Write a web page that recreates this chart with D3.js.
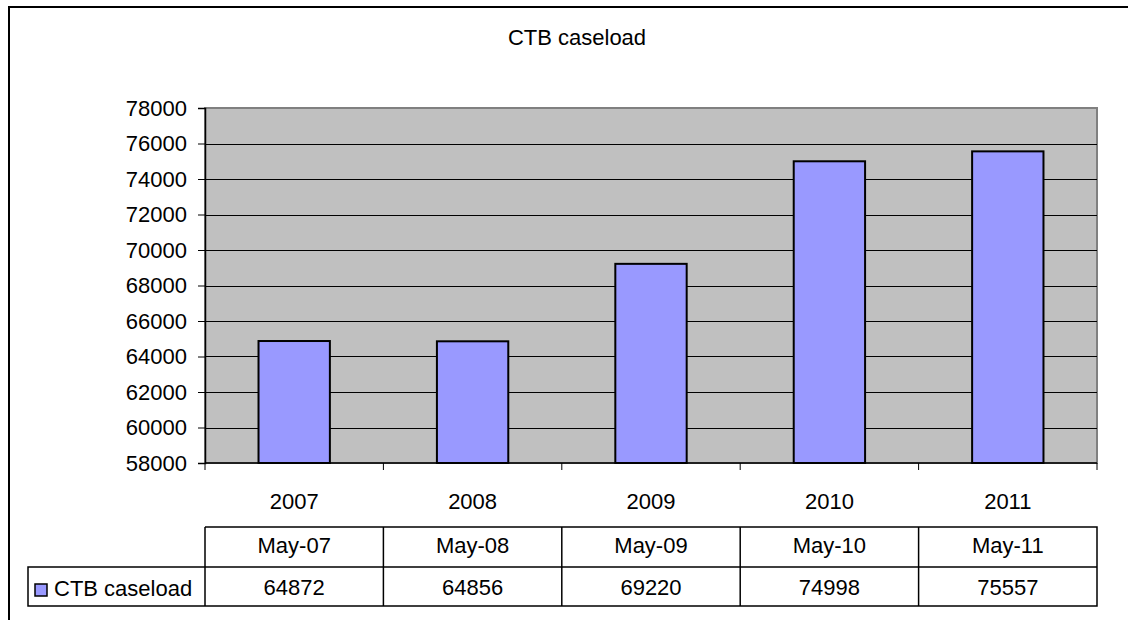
<!DOCTYPE html>
<html>
<head>
<meta charset="utf-8">
<script src="https://cdn.jsdelivr.net/npm/d3@7"></script>
<style>
  body { margin: 0; background: #fff; }
  text { font-family: "Liberation Sans", Arial, sans-serif; font-size: 22px; fill: #000; }
</style>
</head>
<body>
<svg width="1128" height="620"></svg>
<script>
// chart data
const years = ["2007", "2008", "2009", "2010", "2011"];
const dates = ["May-07", "May-08", "May-09", "May-10", "May-11"];
const caseload = [64872, 64856, 69220, 74998, 75557];
const yTicks = [58000, 60000, 62000, 64000, 66000, 68000, 70000, 72000, 74000, 76000, 78000];
const seriesName = "CTB caseload";

const svg = d3.select("svg");
const plot = { left: 205, right: 1097, top: 108, bottom: 463 };

// outer chart frame (runs off the right and bottom edge)
svg.append("rect")
    .attr("x", 9).attr("y", 7)
    .attr("width", 1200).attr("height", 700)
    .attr("fill", "none").attr("stroke", "#000").attr("stroke-width", 2);

svg.append("text")
    .attr("x", 577).attr("y", 45)
    .attr("text-anchor", "middle")
    .text("CTB caseload");

const x = d3.scaleBand().domain(years).range([plot.left, plot.right]).padding(0);
const y = d3.scaleLinear().domain([58000, 78000]).range([plot.bottom, plot.top]);

// plot background
svg.append("rect")
    .attr("x", plot.left).attr("y", plot.top)
    .attr("width", plot.right - plot.left).attr("height", plot.bottom - plot.top)
    .attr("fill", "#c0c0c0").attr("stroke", "#808080").attr("stroke-width", 2);

// gridlines
svg.append("g").selectAll("line")
    .data(yTicks.slice(1, -1))
    .enter().append("line")
    .attr("x1", plot.left).attr("x2", plot.right)
    .attr("y1", d => Math.round(y(d)) + 0.5).attr("y2", d => Math.round(y(d)) + 0.5)
    .attr("stroke", "#000").attr("stroke-width", 1);

// bars
const bw = x.bandwidth() * 0.4;
svg.append("g").selectAll("rect")
    .data(caseload)
    .enter().append("rect")
    .attr("x", (d, i) => x(years[i]) + (x.bandwidth() - bw) / 2)
    .attr("y", d => y(d))
    .attr("width", bw)
    .attr("height", d => y(58000) - y(d))
    .attr("fill", "#9999ff").attr("stroke", "#000").attr("stroke-width", 2);

// y axis
const yAxis = svg.append("g")
    .attr("transform", `translate(${plot.left},0)`)
    .call(d3.axisLeft(y).tickValues(yTicks).tickFormat(d3.format("d")).tickSize(7).tickPadding(11));
yAxis.select(".domain").attr("stroke", "#000").attr("stroke-width", 1.5);
yAxis.selectAll(".tick line").attr("stroke", "#000");
yAxis.selectAll("text").attr("font-size", null).attr("font-family", null);

// x axis: ticks on category boundaries
const xAxis = svg.append("g")
    .attr("transform", `translate(0,${plot.bottom})`)
    .call(d3.axisBottom(x).tickSize(0).tickPadding(30));
xAxis.select(".domain").attr("stroke", "#000").attr("stroke-width", 1.5).attr("d", `M${plot.left},0H${plot.right}`);
xAxis.selectAll("text").attr("font-size", null).attr("font-family", null);
xAxis.selectAll(".bound")
    .data(years.concat(["end"]))
    .enter().append("line")
    .attr("class", "bound")
    .attr("x1", (d, i) => i < years.length ? x(d) : plot.right)
    .attr("x2", (d, i) => i < years.length ? x(d) : plot.right)
    .attr("y1", 0).attr("y2", 7)
    .attr("stroke", "#000");

// data table
const rowTop = 527, rowMid = 567, rowBot = 606, legendLeft = 28;
const table = svg.append("g");
table.append("path")
    .attr("d", `M${plot.left},${rowTop}H${plot.right}V${rowBot}H${legendLeft}V${rowMid}H${plot.right}M${plot.left},${rowTop}V${rowBot}`)
    .attr("fill", "none").attr("stroke", "#000").attr("stroke-width", 1.5);
table.selectAll(".col")
    .data(years.slice(1))
    .enter().append("line")
    .attr("x1", d => x(d)).attr("x2", d => x(d))
    .attr("y1", rowTop).attr("y2", rowBot)
    .attr("stroke", "#000").attr("stroke-width", 1.5);
table.selectAll(".hdr")
    .data(dates)
    .enter().append("text")
    .attr("x", (d, i) => x(years[i]) + x.bandwidth() / 2)
    .attr("y", 553)
    .attr("text-anchor", "middle")
    .text(d => d);
table.selectAll(".val")
    .data(caseload)
    .enter().append("text")
    .attr("x", (d, i) => x(years[i]) + x.bandwidth() / 2)
    .attr("y", 595)
    .attr("text-anchor", "middle")
    .text(d => d);

// legend key
table.append("rect")
    .attr("x", 35).attr("y", 584).attr("width", 12).attr("height", 12)
    .attr("fill", "#9999ff").attr("stroke", "#000").attr("stroke-width", 1.5);
table.append("text")
    .attr("x", 54).attr("y", 596)
    .text(seriesName);
</script>
</body>
</html>
